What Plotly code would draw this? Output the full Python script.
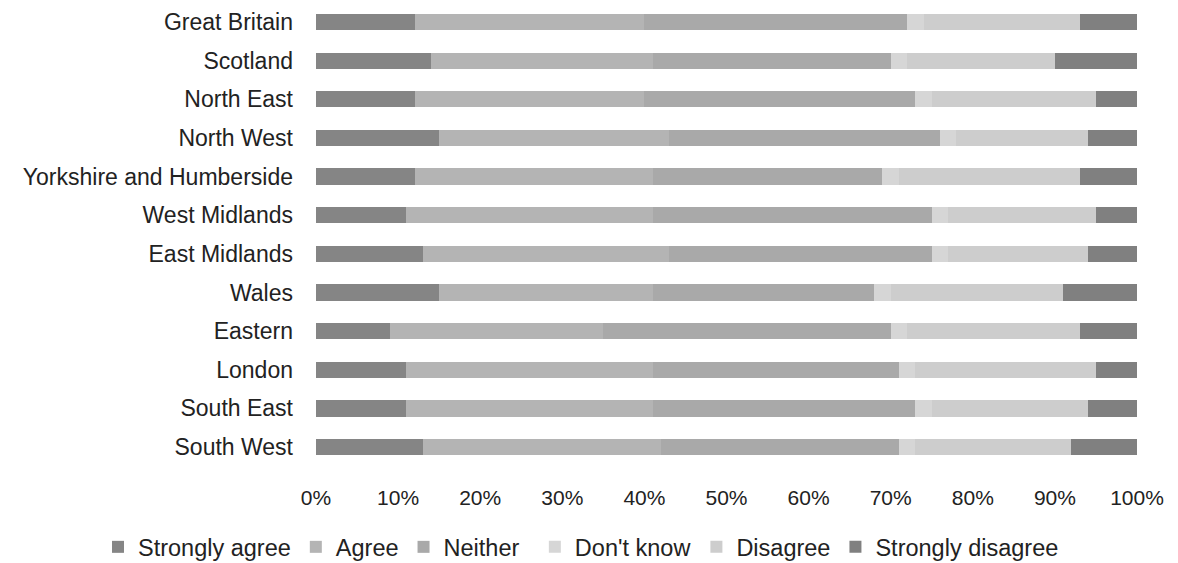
import plotly.graph_objects as go

regions = ["Great Britain", "Scotland", "North East", "North West",
           "Yorkshire and Humberside", "West Midlands", "East Midlands",
           "Wales", "Eastern", "London", "South East", "South West"]

strongly_agree    = [12, 14, 12, 15, 12, 11, 13, 15,  9, 11, 11, 13]
agree             = [28, 27, 28, 28, 29, 30, 30, 26, 26, 30, 30, 29]
neither           = [32, 29, 33, 33, 28, 34, 32, 27, 35, 30, 32, 29]
dont_know         = [ 2,  2,  2,  2,  2,  2,  2,  2,  2,  2,  2,  2]
disagree          = [19, 18, 20, 16, 22, 18, 17, 21, 21, 22, 19, 19]
strongly_disagree = [ 7, 10,  5,  6,  7,  5,  6,  9,  7,  5,  6,  8]

series = [
    ("Strongly agree", strongly_agree, "#858585", "legend"),
    ("Agree", agree, "#b4b4b4", "legend"),
    ("Neither", neither, "#a9a9a9", "legend"),
    ("Don't know", dont_know, "#d6d6d6", "legend2"),
    ("Disagree", disagree, "#cdcdcd", "legend2"),
    ("Strongly disagree", strongly_disagree, "#808080", "legend2"),
]

fig = go.Figure()
for name, vals, col, lg in series:
    fig.add_trace(go.Bar(
        y=regions, x=[v / 100 for v in vals], name=name, orientation="h",
        marker=dict(color=col, line=dict(width=0)), legend=lg,
    ))

legend_common = dict(orientation="h", xref="container", xanchor="left",
                     y=-0.177, yanchor="middle", font=dict(size=23.5),
                     itemwidth=30, traceorder="normal",
                     bgcolor="rgba(0,0,0,0)")

fig.update_layout(
    barmode="stack",
    bargap=0.58,
    width=1170, height=555,
    margin=dict(l=308, r=41, t=0, b=97, autoexpand=False),
    paper_bgcolor="white", plot_bgcolor="white",
    font=dict(family="Liberation Sans, Arial, sans-serif", size=22, color="#222222"),
    xaxis=dict(range=[0, 1], tickformat=".0%", dtick=0.1, showgrid=False,
               zeroline=False, showline=False, ticks="", ticklabelstandoff=17,
               tickfont=dict(size=21)),
    yaxis=dict(range=[11.49, -0.362], showgrid=False, zeroline=False,
               showline=False, ticks="", ticklabelstandoff=22,
               tickfont=dict(size=23)),
    legend=dict(x=0.0769, **legend_common),
    legend2=dict(x=0.4503, **legend_common),
)

fig.write_html("out.html")
